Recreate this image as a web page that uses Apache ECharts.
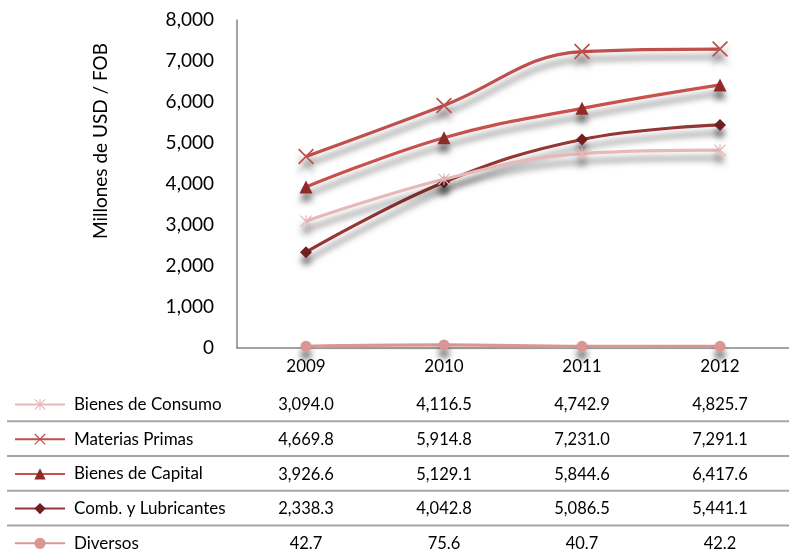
<!DOCTYPE html>
<html>
<head>
<meta charset="utf-8">
<script src="https://cdn.jsdelivr.net/npm/echarts@6/dist/echarts.min.js"></script>
<style>
html,body{margin:0;padding:0;background:#fff;}
#main{width:789px;height:551px;}
</style>
</head>
<body>
<div id="main"></div>
<script>
var categories = ['2009', '2010', '2011', '2012'];
var seriesNames = ['Bienes de Consumo', 'Materias Primas', 'Bienes de Capital', 'Comb. y Lubricantes', 'Diversos'];
var bienesConsumo = [3094.0, 4116.5, 4742.9, 4825.7];
var materiasPrimas = [4669.8, 5914.8, 7231.0, 7291.1];
var bienesCapital = [3926.6, 5129.1, 5844.6, 6417.6];
var combLubricantes = [2338.3, 4042.8, 5086.5, 5441.1];
var diversos = [42.7, 75.6, 40.7, 42.2];
var yTicks = [0, 1000, 2000, 3000, 4000, 5000, 6000, 7000, 8000];
var yAxisTitle = 'Millones de USD / FOB';

var allData = [bienesConsumo, materiasPrimas, bienesCapital, combLubricantes, diversos];
var FONT = 'Lato, "Open Sans", sans-serif';

var xPath = 'path://M0,1.5 L1.5,0 L10,8.5 L18.5,0 L20,1.5 L11.5,10 L20,18.5 L18.5,20 L10,11.5 L1.5,20 L0,18.5 L8.5,10 Z';
var starPath = 'path://M0,1.5 L1.5,0 L10,8.5 L18.5,0 L20,1.5 L11.5,10 L20,18.5 L18.5,20 L10,11.5 L1.5,20 L0,18.5 L8.5,10 Z M9,0 L11,0 L11,20 L9,20 Z';

var styles = [
  {line: '#E6B9B8', sym: '#E6B9B8', symbol: starPath, size: 12},
  {line: '#C0504D', sym: '#C0504D', symbol: xPath, size: 16},
  {line: '#C8504D', sym: '#8E2B29', symbol: 'triangle', size: 13},
  {line: '#943634', sym: '#6E1F1E', symbol: 'diamond', size: 12},
  {line: '#D99694', sym: '#D99694', symbol: 'circle', size: 11}
];

var series = seriesNames.map(function (name, i) {
  return {
    name: name,
    type: 'line',
    data: allData[i],
    smooth: 0.4,
    symbol: styles[i].symbol,
    symbolSize: styles[i].size,
    showSymbol: true,
    lineStyle: {
      color: styles[i].line, width: 3.2,
      shadowColor: 'rgba(0,0,0,0.5)', shadowBlur: 6, shadowOffsetY: 8, shadowOffsetX: 1
    },
    itemStyle: {
      color: styles[i].sym, borderWidth: 0,
      shadowColor: 'rgba(0,0,0,0.5)', shadowBlur: 6, shadowOffsetY: 8
    },
    z: 10 - i
  };
});

var rowTop = 404, rowStep = 34.7;
var legends = seriesNames.map(function (name, r) {
  return {
    orient: 'horizontal',
    left: 14,
    top: rowTop + r * rowStep - 8,
    padding: 0,
    itemWidth: 50,
    itemHeight: 14,
    textStyle: {fontFamily: FONT, fontSize: 17, color: '#000', lineHeight: 14, padding: [0, 0, 0, 4]},
    data: [name],
    selectedMode: false
  };
});

var chart = echarts.init(document.getElementById('main'), null, {renderer: 'canvas'});
chart.setOption({
  backgroundColor: '#fff',
  animation: false,
  grid: {left: 237, top: 20, height: 328, right: -8},
  legend: legends,
  xAxis: {
    type: 'category',
    data: categories,
    boundaryGap: true,
    axisLine: {lineStyle: {color: '#868686', width: 1.5}},
    axisTick: {show: false},
    axisLabel: {fontFamily: FONT, fontSize: 17, color: '#000', margin: 10},
    splitLine: {show: false}
  },
  yAxis: {
    type: 'value',
    min: yTicks[0],
    max: yTicks[yTicks.length - 1],
    interval: 1000,
    axisLine: {show: true, lineStyle: {color: '#868686', width: 1.5}},
    axisTick: {show: false},
    splitLine: {show: false},
    axisLabel: {
      fontFamily: FONT, fontSize: 19, color: '#000', margin: 23,
      formatter: function (v) { return v.toLocaleString('en-US'); }
    }
  },
  series: series
});

// Data table below the chart
var graphics = [{
  type: 'text', silent: true,
  x: 101, y: 141, rotation: Math.PI / 2,
  style: {
    text: yAxisTitle, fontFamily: FONT, fontSize: 19, fill: '#000',
    textAlign: 'center', textVerticalAlign: 'middle'
  }
}];
function fmt(v) {
  return v.toLocaleString('en-US', {minimumFractionDigits: 1, maximumFractionDigits: 1});
}
for (var r = 0; r < seriesNames.length; r++) {
  var cy = rowTop + r * rowStep;
  if (r > 0) {
    graphics.push({
      type: 'line', silent: true,
      shape: {x1: 7, y1: cy - rowStep / 2, x2: 789, y2: cy - rowStep / 2},
      style: {stroke: '#A6A6A6', lineWidth: 2}
    });
  }
  for (var c = 0; c < categories.length; c++) {
    var px = chart.convertToPixel({xAxisIndex: 0}, categories[c]);
    graphics.push({
      type: 'text', silent: true,
      x: px, y: cy + 1,
      style: {
        text: fmt(allData[r][c]), fontFamily: FONT, fontSize: 16.5, fill: '#000',
        textAlign: 'center', textVerticalAlign: 'middle'
      }
    });
  }
}
chart.setOption({graphic: graphics});
</script>
</body>
</html>
